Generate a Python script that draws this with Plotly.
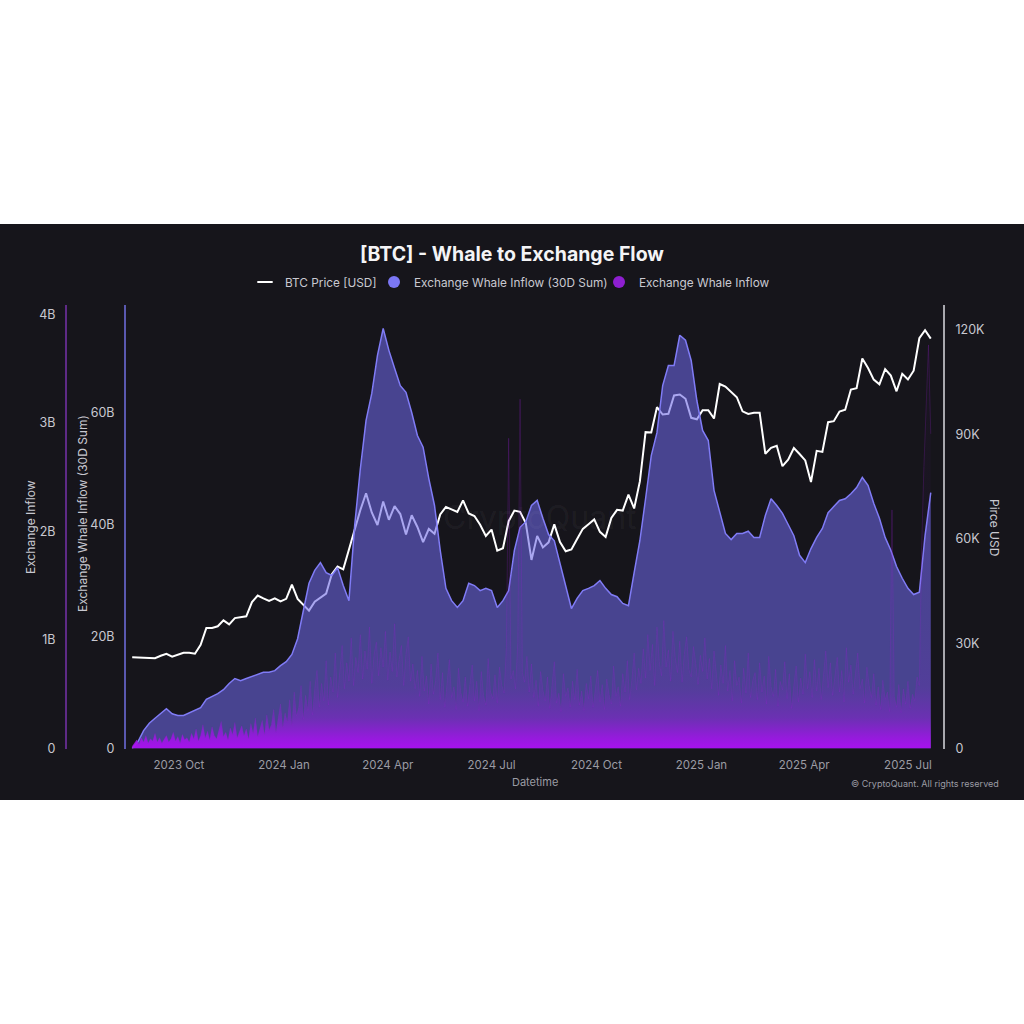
import pandas as pd
import plotly.graph_objects as go

# ---------------- data ----------------
START = "2023-08-21"

# BTC price [USD], one value every 5 days from START
btc_price_usd = [
    26100, 26000, 25950, 25800, 25850, 26550, 27100, 26300, 26950, 27400,
    27400, 27150, 29700, 34500, 34500, 35000, 36700, 35550, 37350, 37700,
    37850, 41950, 43800, 43000, 42250, 43000, 42100, 42850, 46900, 42850,
    41300, 39500, 42050, 43200, 44350, 49950, 52100, 51300, 57050, 63100,
    68300, 73100, 67600, 64000, 70750, 65500, 69400, 67150, 61300, 66800,
    63450, 59100, 62900, 61500, 67050, 69200, 68500, 67750, 71050, 67300,
    66600, 64100, 60850, 62700, 56650, 57350, 65100, 68150, 67800, 64600,
    54000, 60900, 57600, 59050, 64200, 59100, 56500, 57000, 60000, 62900,
    64250, 65600, 62050, 60600, 66000, 68350, 68150, 72700, 68750, 76500,
    90600, 90500, 97750, 95650, 95850, 101100, 101400, 100150, 94700, 94300,
    96900, 96900, 94500, 104400, 103650, 102100, 100600, 96550, 95800, 96150,
    96150, 84400, 86100, 86700, 80850, 82700, 86050, 84350, 82500, 76300,
    85250, 84950, 93450, 93750, 96500, 97000, 102800, 103200, 111700, 108950,
    105650, 104300, 108650, 106800, 102300, 107300, 105700, 108200, 117500, 119800,
    117400,
]

# Exchange Whale Inflow (30D Sum) [billions], one value every 5 days from START
whale_inflow_30d_b = [
    0.0, 1.2, 3.2, 4.5, 5.4, 6.2, 7.1, 6.2, 5.9, 5.9,
    6.4, 6.8, 7.3, 8.8, 9.3, 9.8, 10.5, 11.6, 12.5, 12.1,
    12.5, 12.9, 13.2, 13.6, 13.6, 13.9, 14.8, 15.5, 16.8, 19.6,
    24.6, 29.5, 31.8, 33.2, 31.4, 30.9, 32.3, 29.1, 26.4, 39.8,
    50.0, 58.6, 63.4, 70.2, 75.0, 71.1, 67.9, 64.8, 63.6, 60.0,
    55.9, 53.8, 48.2, 43.4, 35.4, 28.6, 26.4, 25.2, 26.4, 29.5,
    29.1, 28.2, 28.6, 28.2, 25.2, 26.4, 28.2, 35.4, 39.5, 40.5,
    43.4, 44.3, 41.1, 38.2, 37.1, 33.2, 29.1, 25.0, 26.8, 28.2,
    28.6, 29.1, 30.0, 28.6, 27.5, 27.1, 25.9, 25.5, 31.4, 37.1,
    44.6, 52.3, 56.4, 64.8, 68.4, 68.4, 73.8, 72.9, 69.3, 62.1,
    56.8, 55.0, 46.1, 42.0, 38.4, 37.3, 38.4, 38.4, 38.8, 37.7,
    37.7, 41.6, 44.6, 43.4, 42.0, 40.0, 38.0, 34.5, 33.2, 35.7,
    37.7, 39.3, 42.1, 43.2, 44.3, 44.6, 45.5, 46.6, 48.4, 47.0,
    43.8, 41.1, 37.7, 35.4, 32.5, 30.4, 28.6, 27.5, 27.9, 38.0,
    45.7,
]

# Exchange Whale Inflow [billions], one value every 2 days from START
whale_inflow_daily_b = [
    0.02, 0.05, 0.08, 0.04, 0.10, 0.06, 0.12, 0.05, 0.09, 0.07, 0.14, 0.06, 0.10, 0.05, 0.08, 0.12, 0.06, 0.09, 0.15, 0.07, 0.11, 0.05, 0.13, 0.08, 0.10,
    0.06, 0.14, 0.09, 0.18, 0.07, 0.12, 0.22, 0.10, 0.16, 0.08, 0.20, 0.12, 0.09, 0.17, 0.25, 0.11, 0.15, 0.08, 0.19, 0.13, 0.24, 0.10, 0.16, 0.21, 0.12,
    0.18, 0.09, 0.23, 0.14, 0.28, 0.11, 0.19, 0.26, 0.13, 0.31, 0.17, 0.22, 0.36, 0.15, 0.28, 0.41, 0.19, 0.33, 0.24, 0.45, 0.21, 0.52, 0.30, 0.38, 0.58,
    0.27, 0.49, 0.35, 0.62, 0.31, 0.55, 0.72, 0.38, 0.60, 0.44, 0.81, 0.40, 0.66, 0.52, 0.88, 0.47, 0.73, 0.95, 0.55, 0.79, 0.62, 1.02, 0.58, 0.84, 0.70,
    1.05, 0.64, 0.90, 0.73, 1.12, 0.60, 0.86, 0.98, 0.67, 0.93, 0.75, 1.08, 0.63, 0.89, 0.71, 1.15, 0.66, 0.82, 0.95, 0.58, 0.87, 1.03, 0.62, 0.78, 0.55,
    0.72, 0.48, 0.85, 0.53, 0.67, 0.41, 0.78, 0.50, 0.63, 0.88, 0.45, 0.70, 0.38, 0.61, 0.82, 0.47, 0.57, 0.36, 0.74, 0.52, 0.43, 0.66, 0.39, 0.59, 0.77,
    0.44, 0.62, 0.35, 0.71, 0.49, 0.40, 0.83, 0.53, 0.46, 0.68, 0.42, 0.75, 0.58, 0.51, 0.93, 2.86, 0.64, 0.72, 0.55, 0.98, 3.22, 0.70, 0.61, 0.85, 0.52,
    0.78, 0.47, 0.63, 0.39, 0.71, 0.54, 0.44, 0.66, 0.37, 0.58, 0.80, 0.42, 0.51, 0.34, 0.69, 0.48, 0.56, 0.38, 0.62, 0.45, 0.73, 0.40, 0.53, 0.35, 0.60,
    0.46, 0.67, 0.38, 0.55, 0.72, 0.43, 0.59, 0.36, 0.64, 0.50, 0.41, 0.76, 0.48, 0.57, 0.39, 0.69, 0.52, 0.81, 0.45, 0.63, 0.88, 0.54, 0.74, 0.60, 0.92,
    0.65, 1.05, 0.72, 0.96, 0.58, 1.12, 0.80, 0.67, 1.18, 0.75, 0.91, 0.62, 1.08, 0.84, 0.70, 0.99, 0.61, 0.87, 1.03, 0.73, 0.66, 0.94, 0.78, 0.59, 0.86,
    0.71, 1.02, 0.64, 0.83, 0.55, 0.90, 0.68, 0.49, 0.77, 0.60, 0.95, 0.53, 0.72, 0.44, 0.81, 0.58, 0.66, 0.42, 0.74, 0.51, 0.88, 0.47, 0.63, 0.70, 0.45,
    0.79, 0.52, 0.67, 0.41, 0.85, 0.57, 0.48, 0.73, 0.39, 0.62, 0.54, 0.80, 0.46, 0.69, 0.37, 0.58, 0.76, 0.43, 0.65, 0.50, 0.87, 0.55, 0.71, 0.47, 0.82,
    0.53, 0.74, 0.45, 0.68, 0.90, 0.56, 0.79, 0.49, 0.66, 0.84, 0.52, 0.72, 0.43, 0.93, 0.61, 0.77, 0.50, 0.70, 0.88, 0.55, 0.64, 0.42, 0.75, 0.58, 0.47,
    0.69, 0.40, 0.57, 0.36, 0.63, 0.45, 0.52, 0.34, 2.20, 0.48, 0.38, 0.59, 0.33, 0.55, 0.41, 0.62, 0.37, 0.50, 0.44, 0.66, 0.58, 1.85, 2.60, 3.10, 3.72,
    2.90,
]

price_ticks = [0, 30000, 60000, 90000, 120000]
price_tick_labels = ["0", "30K", "60K", "90K", "120K"]
sum_ticks = [0, 20, 40, 60]
sum_tick_labels = ["0", "20B", "40B", "60B"]
inflow_ticks = [0, 1, 2, 3, 4]
inflow_tick_labels = ["0", "1B", "2B", "3B", "4B"]

dates_5d = pd.date_range(START, periods=len(btc_price_usd), freq="5D")
dates_2d = pd.date_range(START, periods=len(whale_inflow_daily_b), freq="2D")

# ---------------- styling helpers ----------------
W = H = 1024
def fx(p):  # pixel x -> paper fraction
    return p / W
def fy(p):  # pixel y (from top) -> paper fraction
    return 1 - p / H

BG = "#16151b"
TXT = "#c8c8d0"
DIM = "#9b9ba4"
FONT = "Inter, Roboto, sans-serif"

fig = go.Figure()

# price (main y, drawn first so the area sits above it)
fig.add_trace(go.Scatter(
    x=dates_5d, y=btc_price_usd, mode="lines", name="BTC Price [USD]",
    line=dict(color="#ffffff", width=2), yaxis="y", showlegend=False,
))
# 30D sum area
fig.add_trace(go.Scatter(
    x=dates_5d, y=whale_inflow_30d_b, mode="lines", fill="tozeroy",
    name="Exchange Whale Inflow (30D Sum)",
    fillcolor="rgba(108,104,230,0.58)", line=dict(color="#807cf6", width=1.5),
    yaxis="y2", showlegend=False,
))
# daily inflow with vertical gradient
fig.add_trace(go.Scatter(
    x=dates_2d, y=whale_inflow_daily_b, mode="lines", fill="tozeroy",
    name="Exchange Whale Inflow",
    fillgradient=dict(
        type="vertical", start=0, stop=4.09,
        colorscale=[
            [0.0, "rgba(170,16,240,0.97)"],
            [0.025, "rgba(165,18,236,0.82)"],
            [0.07, "rgba(155,22,226,0.42)"],
            [0.14, "rgba(145,26,215,0.14)"],
            [0.3, "rgba(130,30,200,0.05)"],
            [1.0, "rgba(120,30,190,0.03)"],
        ],
    ),
    line=dict(color="rgba(150,30,210,0.22)", width=1),
    yaxis="y3", showlegend=False,
))

# legend entries (one small legend per entry so each sits where the reference has it)
fig.add_trace(go.Scatter(
    x=[None], y=[None], mode="markers", name="BTC Price [USD]", legend="legend",
    marker=dict(symbol="line-ew", size=11, line=dict(color="#ffffff", width=2)),
))
fig.add_trace(go.Scatter(
    x=[None], y=[None], mode="markers", name="Exchange Whale Inflow (30D Sum)", legend="legend2",
    marker=dict(symbol="circle", size=12, color="#7b77f5"),
))
fig.add_trace(go.Scatter(
    x=[None], y=[None], mode="markers", name="Exchange Whale Inflow", legend="legend3",
    marker=dict(symbol="circle", size=12, color="#8e1fd0"),
))

x_range = [pd.Timestamp(START) + pd.Timedelta(days=(126 - 132.2) / 1.1408),
           pd.Timestamp(START) + pd.Timedelta(days=(943 - 132.2) / 1.1408)]

y_dom = [fy(748.5), fy(305)]

def legend_at(text_x):
    return dict(
        orientation="h", x=fx(text_x - 40), xanchor="left", y=fy(282), yanchor="middle",
        font=dict(family=FONT, size=11.8, color="#c9c9d1"),
        bgcolor="rgba(0,0,0,0)", itemclick=False, itemdoubleclick=False,
    )

fig.update_layout(
    width=W, height=H,
    margin=dict(l=0, r=0, t=0, b=0, autoexpand=False),
    paper_bgcolor="white", plot_bgcolor=BG,
    font=dict(family=FONT, color=TXT, size=12.5),
    showlegend=True,
    title=dict(
        text="[BTC] - Whale to Exchange Flow", x=0.5, xanchor="center",
        y=fy(254), yanchor="middle", yref="container",
        font=dict(family=FONT, size=19.5, color="#f4f4f6", weight=700),
    ),
    legend=legend_at(285),
    legend2=legend_at(414),
    legend3=legend_at(639),
    xaxis=dict(
        domain=[fx(126), fx(943)], range=x_range, type="date",
        tickformat="%Y %b", dtick="M3", tick0="2023-10-01",
        showgrid=False, zeroline=False, showline=False, ticks="",
        ticklabelstandoff=8,
        tickfont=dict(family=FONT, size=11.5, color=DIM),
    ),
    yaxis=dict(
        domain=y_dom, side="right", anchor="x", range=[0, 127017],
        tickvals=price_ticks, ticktext=price_tick_labels,
        showgrid=False, zeroline=False, ticks="",
        showline=True, linecolor="#a8a8ae", linewidth=2,
        ticklabelstandoff=8,
        tickfont=dict(family=FONT, size=12.5, color=TXT),
    ),
    yaxis2=dict(
        overlaying="y", side="left", anchor="x", range=[0, 79.2],
        tickvals=sum_ticks, ticktext=sum_tick_labels,
        showgrid=False, zeroline=False, ticks="",
        showline=True, linecolor="#5a58b0", linewidth=2,
        ticklabelstandoff=7,
        tickfont=dict(family=FONT, size=12.5, color=TXT),
    ),
    yaxis3=dict(
        overlaying="y", side="left", anchor="free", position=fx(66),
        range=[0, 4.088],
        tickvals=inflow_ticks, ticktext=inflow_tick_labels,
        showgrid=False, zeroline=False, ticks="",
        showline=True, linecolor="#5e2a86", linewidth=2,
        ticklabelstandoff=7,
        tickfont=dict(family=FONT, size=12.5, color=TXT),
    ),
    shapes=[dict(
        type="rect", xref="paper", yref="paper",
        x0=0, x1=1, y0=fy(800), y1=fy(224),
        fillcolor=BG, line=dict(width=0), layer="below",
    )],
    annotations=[
        dict(text="Exchange Inflow", x=fx(30), y=fy(527), xref="paper", yref="paper",
             textangle=-90, showarrow=False, xanchor="center", yanchor="middle",
             font=dict(family=FONT, size=12, color=TXT)),
        dict(text="Exchange Whale Inflow (30D Sum)", x=fx(82), y=fy(514), xref="paper", yref="paper",
             textangle=-90, showarrow=False, xanchor="center", yanchor="middle",
             font=dict(family=FONT, size=12, color=TXT)),
        dict(text="Pirce USD", x=fx(995), y=fy(527), xref="paper", yref="paper",
             textangle=90, showarrow=False, xanchor="center", yanchor="middle",
             font=dict(family=FONT, size=12, color=TXT)),
        dict(text="Datetime", x=fx(535), y=fy(782), xref="paper", yref="paper",
             showarrow=False, xanchor="center", yanchor="middle",
             font=dict(family=FONT, size=11, color=DIM)),
        dict(text="© CryptoQuant. All rights reserved", x=fx(1001), y=fy(783),
             xref="paper", yref="paper", showarrow=False, xanchor="right", yanchor="middle",
             font=dict(family=FONT, size=9, color=DIM)),
        dict(text="CryptoQuant", x=fx(540), y=fy(517), xref="paper", yref="paper",
             showarrow=False, xanchor="center", yanchor="middle",
             font=dict(family=FONT, size=32, color="rgba(255,255,255,0.05)")),
    ],
)

fig.write_html("out.html")
